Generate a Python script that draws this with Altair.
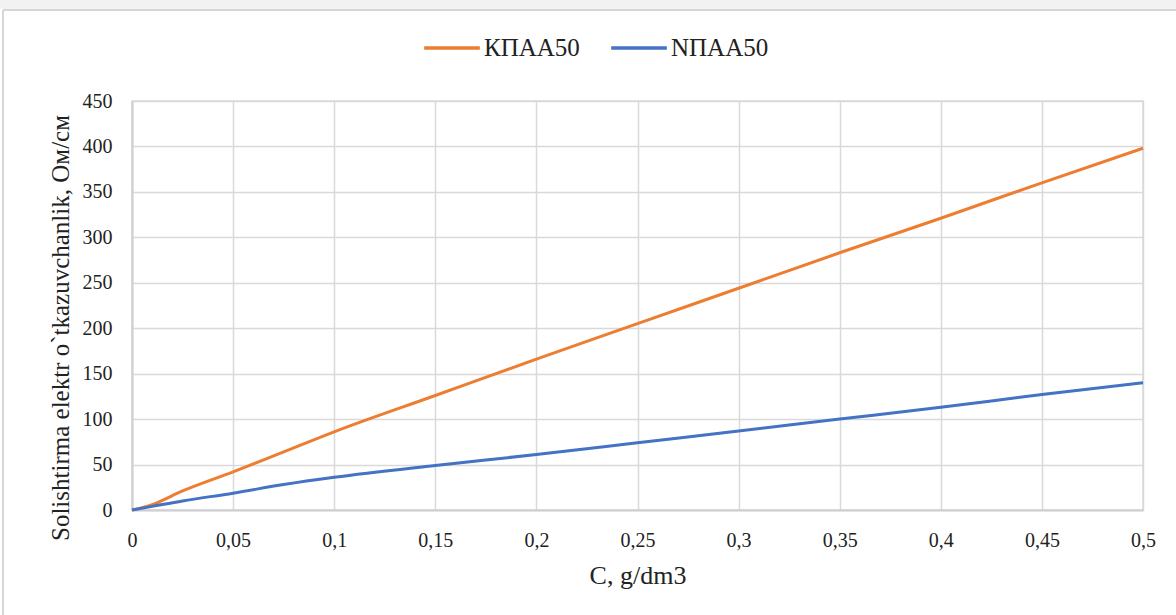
import altair as alt
import pandas as pd

conc = [0, 0.01, 0.025, 0.05, 0.075, 0.1, 0.15, 0.2, 0.25, 0.3, 0.35, 0.4, 0.45, 0.5]
kpaa = [0, 6, 21, 42, 64, 86, 126, 166, 205, 244, 283, 321, 360, 398]
npaa = [0, 4, 10, 18.5, 28, 36, 49, 61, 74, 87, 100, 113, 127, 140]
series_names = ["КПАА50", "NПАА50"]
series_colors = ["#ED7D31", "#4472C4"]
x_ticks = [0, 0.05, 0.1, 0.15, 0.2, 0.25, 0.3, 0.35, 0.4, 0.45, 0.5]
y_ticks = [0, 50, 100, 150, 200, 250, 300, 350, 400, 450]

rows = []
for c, a, b in zip(conc, kpaa, npaa):
    rows.append({"C": c, "R": a, "series": series_names[0], "o": 0})
    rows.append({"C": c, "R": b, "series": series_names[1], "o": 1})
df = pd.DataFrame(rows)

FONT = "Liberation Serif"
W, H = 1011, 409
PL, PT = 132, 101

lines = alt.Chart(df).mark_line(interpolate="monotone", strokeWidth=3).encode(
    x=alt.X("C:Q", scale=alt.Scale(domain=[0, 0.5], nice=False),
            axis=alt.Axis(values=x_ticks, title="C, g/dm3",
                          labelExpr="replace(datum.label, '.', ',')",
                          format="~g", grid=True, ticks=False,
                          labelFontSize=20, titleFontSize=26,
                          labelFlush=False, labelOverlap=False, labelBound=False,
                          labelPadding=20, titlePadding=12)),
    y=alt.Y("R:Q", scale=alt.Scale(domain=[0, 450], nice=False),
            axis=alt.Axis(values=y_ticks, title="Solishtirma elektr o`tkazuvchanlik,  Ом/см",
                          grid=True, ticks=False, labelPadding=20,
                          labelFontSize=20, titleFontSize=25,
                          labelFlush=False, labelOverlap=False,
                          titleX=-72, titleY=H / 2 + 22, titleAngle=270,
                          titleAlign="center", titleBaseline="middle")),
    color=alt.Color("series:N", sort=series_names,
                    scale=alt.Scale(domain=series_names, range=series_colors),
                    legend=alt.Legend(title=None, orient="none", direction="horizontal",
                                      legendX=290, legendY=-83,
                                      symbolType="stroke", symbolSize=3100,
                                      symbolStrokeWidth=3.5, labelFont=FONT,
                                      labelFontSize=25, labelColor="#222222",
                                      columnPadding=24, labelOffset=2)),
    order="o:Q",
)

top_strip = alt.Chart(pd.DataFrame({"a": [0]})).mark_rect(color="#f2f2f2").encode(
    x=alt.value(-PL), x2=alt.value(1176 - PL), y=alt.value(-PT), y2=alt.value(-PT + 9))
top_line = alt.Chart(pd.DataFrame({"a": [0]})).mark_rule(color="#d6d6d6", strokeWidth=2).encode(
    x=alt.value(-PL + 3), x2=alt.value(1176 - PL), y=alt.value(-PT + 10))
left_line = alt.Chart(pd.DataFrame({"a": [0]})).mark_rule(color="#d6d6d6", strokeWidth=2).encode(
    x=alt.value(-PL + 3), y=alt.value(-PT + 10), y2=alt.value(615 - PT))

chart = alt.layer(top_strip, top_line, left_line, lines).properties(
    width=W, height=H,
    autosize=alt.AutoSizeParams(type="none"),
    padding={"left": PL, "top": PT, "right": 1176 - PL - W, "bottom": 615 - PT - H},
    background="white",
).configure_axis(
    labelFont=FONT, titleFont=FONT,
    labelColor="#222222", titleColor="#222222", titleFontWeight="normal",
    gridColor="#d9d9d9", gridWidth=1.5, domainColor="#d0d0d0", domainWidth=2,
).configure_view(stroke="#d9d9d9", strokeWidth=1.5)

chart.save("out.html", embed_options={"renderer": "svg", "actions": False})
